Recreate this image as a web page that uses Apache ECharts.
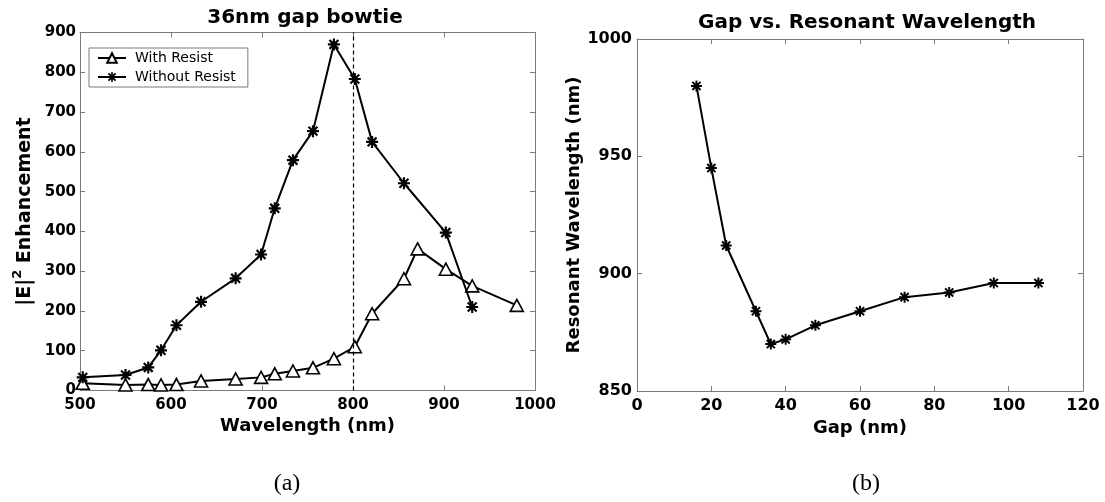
<!DOCTYPE html>
<html>
<head>
<meta charset="utf-8">
<script src="https://cdn.jsdelivr.net/npm/echarts@6/dist/echarts.min.js"></script>
<style>
html,body{margin:0;padding:0;background:#fff;}
#chart{width:1105px;height:502px;}
</style>
</head>
<body>
<div id="chart"></div>
<script>
// ---- Data (a) 36nm gap bowtie ----
const wlWith = [503, 550, 575, 589, 606, 633, 671, 699, 714, 734, 756, 779, 802, 821, 856, 871, 902, 931, 980];
const enhWith = [18, 14, 15, 14, 15, 24, 29, 33, 42, 49, 57, 80, 110, 193, 281, 356, 305, 263, 214];
const wlWithout = [503, 550, 575, 589, 606, 633, 671, 699, 714, 734, 756, 779, 802, 821, 856, 902, 931];
const enhWithout = [33, 39, 58, 101, 164, 223, 282, 342, 458, 579, 652, 870, 783, 625, 521, 397, 210];
const refWavelength = 800;
const seriesNames = ['With Resist', 'Without Resist'];

// ---- Data (b) Gap vs. Resonant Wavelength ----
const gaps = [16, 20, 24, 32, 36, 40, 48, 60, 72, 84, 96, 108];
const resonantWl = [980, 945, 912, 884, 870, 872, 878, 884, 890, 892, 896, 896];

const titles = ['36nm gap bowtie', 'Gap vs. Resonant Wavelength'];
const captions = ['(a)', '(b)'];

const BOLD = 'DejaVu Sans';
const starPath = 'path://M4.1 0L5.9 0L5.9 10L4.1 10Z M0 4.1L10 4.1L10 5.9L0 5.9Z M1.94 0.66L9.34 8.06L8.06 9.34L0.66 1.94Z M9.34 1.94L1.94 9.34L0.66 8.06L8.06 0.66Z';
const borderColor = '#7a7a7a';
const plain = v => String(v);

function zip(xs, ys) { return xs.map((x, i) => [x, ys[i]]); }

function axisBase(opts) {
  return Object.assign({
    type: 'value',
    splitLine: { show: false },
    axisLine: { show: true, onZero: false, lineStyle: { color: borderColor, width: 1 } },
    axisTick: { show: true, inside: true, length: 5, lineStyle: { color: borderColor, width: 1 } },
  }, opts);
}

const chart = echarts.init(document.getElementById('chart'), null, { renderer: 'canvas' });

const option = {
  backgroundColor: '#ffffff',
  animation: false,
  title: [
    { text: titles[0], left: 305, top: 8, textAlign: 'center', padding: 0,
      textStyle: { fontFamily: BOLD, fontWeight: 'bold', fontSize: 20, color: '#000' } },
    { text: titles[1], left: 867, top: 13, textAlign: 'center', padding: 0,
      textStyle: { fontFamily: BOLD, fontWeight: 'bold', fontSize: 20, color: '#000' } }
  ],
  legend: {
    data: seriesNames,
    orient: 'vertical',
    left: 89, top: 48,
    padding: [3, 12, 3, 8],
    itemWidth: 28, itemHeight: 12, itemGap: 5,
    borderColor: borderColor, borderWidth: 1,
    backgroundColor: '#fff',
    textStyle: { fontFamily: BOLD, fontSize: 14, color: '#000', padding: [0, 0, 0, 4] }
  },
  grid: [
    { left: 80, top: 32.5, width: 455, height: 358, containLabel: false, outerBoundsMode: 'none' },
    { left: 637, top: 39, width: 446, height: 352, containLabel: false, outerBoundsMode: 'none' }
  ],
  xAxis: [
    axisBase({ gridIndex: 0, position: 'bottom', min: 500, max: 1000, interval: 100,
      name: 'Wavelength (nm)', nameLocation: 'middle', nameGap: 20,
      nameTextStyle: { fontFamily: BOLD, fontWeight: 'bold', fontSize: 18, color: '#000' },
      axisLabel: { margin: 7, formatter: plain, fontFamily: BOLD, fontWeight: 'bold', fontSize: 15, color: '#000' } }),
    axisBase({ gridIndex: 0, position: 'top', min: 500, max: 1000, interval: 100, axisLabel: { show: false } }),
    axisBase({ gridIndex: 1, position: 'bottom', min: 0, max: 120, interval: 20,
      name: 'Gap (nm)', nameLocation: 'middle', nameGap: 23,
      nameTextStyle: { fontFamily: BOLD, fontWeight: 'bold', fontSize: 18, color: '#000' },
      axisLabel: { margin: 7, formatter: plain, fontFamily: BOLD, fontWeight: 'bold', fontSize: 16, color: '#000' } }),
    axisBase({ gridIndex: 1, position: 'top', min: 0, max: 120, interval: 20, axisLabel: { show: false } })
  ],
  yAxis: [
    axisBase({ gridIndex: 0, position: 'left', min: 0, max: 900, interval: 100,
      name: '{n||E|}{s|2}{n| Enhancement}', nameLocation: 'middle', nameGap: 45,
      nameTextStyle: { rich: {
        n: { fontFamily: BOLD, fontWeight: 'bold', fontSize: 19, color: '#000', verticalAlign: 'bottom', lineHeight: 24 },
        s: { fontFamily: BOLD, fontWeight: 'bold', fontSize: 13, color: '#000', verticalAlign: 'top', lineHeight: 24 }
      } },
      axisLabel: { margin: 4, formatter: plain, fontFamily: BOLD, fontWeight: 'bold', fontSize: 15, color: '#000' } }),
    axisBase({ gridIndex: 0, position: 'right', min: 0, max: 900, interval: 100, axisLabel: { show: false } }),
    axisBase({ gridIndex: 1, position: 'left', min: 850, max: 1000, interval: 50,
      name: 'Resonant Wavelength (nm)', nameLocation: 'middle', nameGap: 42,
      nameTextStyle: { fontFamily: BOLD, fontWeight: 'bold', fontSize: 18, color: '#000' },
      axisLabel: { margin: 5, formatter: plain, fontFamily: BOLD, fontWeight: 'bold', fontSize: 16, color: '#000' } }),
    axisBase({ gridIndex: 1, position: 'right', min: 850, max: 1000, interval: 50, axisLabel: { show: false } })
  ],
  series: [
    {
      name: seriesNames[0], type: 'line', xAxisIndex: 0, yAxisIndex: 0,
      data: zip(wlWith, enhWith),
      symbol: 'triangle', symbolSize: [13, 12],
      lineStyle: { color: '#000', width: 2 },
      itemStyle: { color: '#fff', borderColor: '#000', borderWidth: 1.6 },
      z: 3,
      markLine: {
        silent: true, symbol: ['none', 'none'], label: { show: false },
        lineStyle: { color: '#000', type: [4, 3], width: 1.2 },
        data: [{ xAxis: refWavelength }]
      }
    },
    {
      name: seriesNames[1], type: 'line', xAxisIndex: 0, yAxisIndex: 0,
      data: zip(wlWithout, enhWithout),
      symbol: starPath, symbolSize: 12,
      lineStyle: { color: '#000', width: 2 },
      itemStyle: { color: '#000' },
      z: 4
    },
    {
      name: 'Resonant', type: 'line', xAxisIndex: 2, yAxisIndex: 2,
      data: zip(gaps, resonantWl),
      symbol: starPath, symbolSize: 11,
      lineStyle: { color: '#000', width: 2 },
      itemStyle: { color: '#000' }
    }
  ],
  graphic: captions.map((c, i) => ({
    type: 'text', x: i === 0 ? 287 : 866, y: 484,
    style: { text: c, font: '24px "Liberation Serif"', fill: '#000', align: 'center', verticalAlign: 'middle' }
  }))
};
chart.setOption(option);
</script>
</body>
</html>
